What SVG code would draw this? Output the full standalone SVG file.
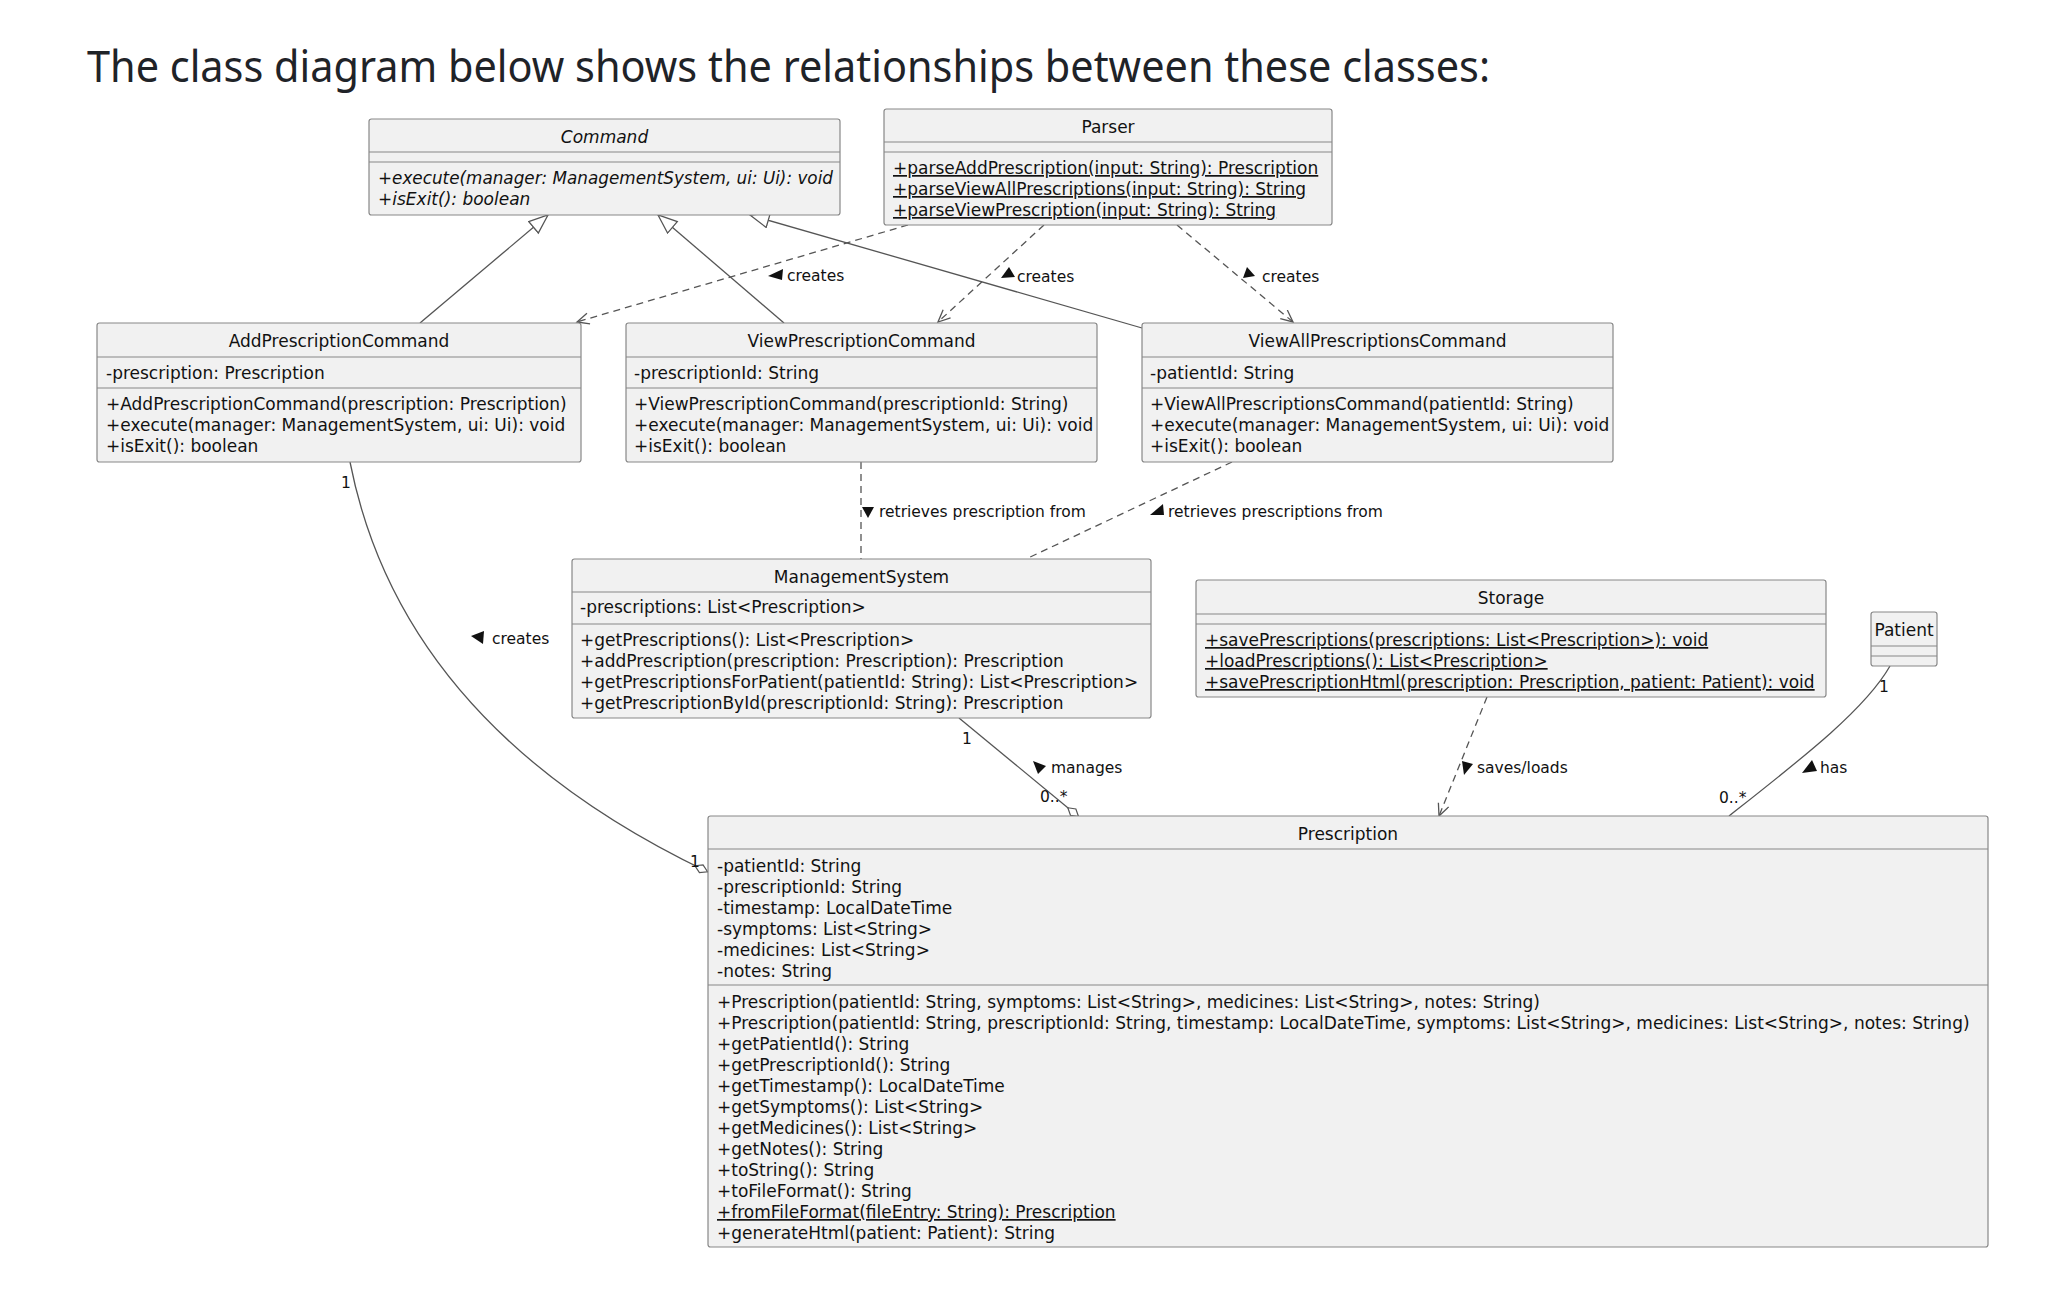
<svg xmlns="http://www.w3.org/2000/svg" width="2056" height="1305" viewBox="0 0 2056 1305">
<style>
.box{fill:#F1F1F1;stroke:#888;stroke-width:1.2}
.sep{stroke:#888;stroke-width:1.2}
.t{font-family:"DejaVu Sans",sans-serif;font-size:17px;fill:#111}
.h{text-anchor:middle}
.i{font-style:italic}
.u{text-decoration:underline}
.lbl{font-family:"DejaVu Sans",sans-serif;font-size:15.5px;fill:#111}
.ln{fill:none;stroke:#555;stroke-width:1.3}
.d{stroke-dasharray:7,5}
.tri{fill:#111}
.head{font-family:"Noto Sans","Open Sans",sans-serif;font-size:44px;fill:#1f2328}
</style>
<defs>
<marker id="gen" markerUnits="userSpaceOnUse" markerWidth="24" markerHeight="20" refX="20" refY="8" orient="auto"><path d="M1,0.5 L20,8 L1,15.5 Z" fill="#fff" stroke="#555" stroke-width="1.3"/></marker>
<marker id="open" markerUnits="userSpaceOnUse" markerWidth="16" markerHeight="14" refX="13" refY="6" orient="auto"><path d="M1,0.5 L13,6 L1,11.5" fill="none" stroke="#555" stroke-width="1.3"/></marker>
<marker id="dia" markerUnits="userSpaceOnUse" markerWidth="18" markerHeight="12" refX="15.5" refY="5" orient="auto"><path d="M1,5 L8,0.8 L15,5 L8,9.2 Z" fill="#fff" stroke="#555" stroke-width="1.2"/></marker>
</defs>
<rect width="2056" height="1305" fill="#fff"/>
<text class="head" x="87" y="82" textLength="1403" lengthAdjust="spacingAndGlyphs">The class diagram below shows the relationships between these classes:</text>

<g id="connectors">
<path class="ln" d="M420,323 L548,215" marker-end="url(#gen)"/>
<path class="ln" d="M784,323 L658,215" marker-end="url(#gen)"/>
<path class="ln" d="M1142,328 L750,215" marker-end="url(#gen)"/>
<path class="ln d" d="M908,225 L577,322" marker-end="url(#open)"/>
<path class="ln d" d="M1044,225 L938,322" marker-end="url(#open)"/>
<path class="ln d" d="M1177,225 L1293,322" marker-end="url(#open)"/>
<path class="ln d" d="M861,462 L861,559"/>
<path class="ln d" d="M1232,462 L1026,559"/>
<path class="ln d" d="M1487,697 L1439,816" marker-end="url(#open)"/>
<path class="ln" d="M350,462 C385,640 505,775 708,872" marker-end="url(#dia)"/>
<path class="ln" d="M959,718 L1079,817" marker-end="url(#dia)"/>
<path class="ln" d="M1890,666 C1865,710 1800,760 1729,816"/>
<polygon class="tri" points="768,276 783,269 782,280"/>
<text class="lbl" x="787" y="281">creates</text>
<polygon class="tri" points="1001,278 1009,267 1015,277"/>
<text class="lbl" x="1017" y="282">creates</text>
<polygon class="tri" points="1243,278 1247,267 1255,276"/>
<text class="lbl" x="1262" y="282">creates</text>
<polygon class="tri" points="862,507 874,507 868,518"/>
<text class="lbl" x="879" y="517">retrieves prescription from</text>
<polygon class="tri" points="1150,515 1163,504 1164,515"/>
<text class="lbl" x="1168" y="517">retrieves prescriptions from</text>
<polygon class="tri" points="471,636 484,631 483,644"/>
<text class="lbl" x="492" y="644">creates</text>
<text class="lbl" x="341" y="488">1</text>
<text class="lbl" x="690" y="867">1</text>
<polygon class="tri" points="1033,761 1046,766 1038,774"/>
<text class="lbl" x="1051" y="773">manages</text>
<text class="lbl" x="962" y="744">1</text>
<text class="lbl" x="1040" y="802">0..*</text>
<polygon class="tri" points="1462,761 1473,764 1464,775"/>
<text class="lbl" x="1477" y="773">saves/loads</text>
<polygon class="tri" points="1802,773 1812,760 1817,771"/>
<text class="lbl" x="1820" y="773">has</text>
<text class="lbl" x="1879" y="692">1</text>
<text class="lbl" x="1719" y="803">0..*</text>
</g>

<g id="Command">
<rect class="box" x="369" y="119" width="471" height="96" rx="2.5"/>
<line class="sep" x1="369" y1="152" x2="840" y2="152"/>
<line class="sep" x1="369" y1="162" x2="840" y2="162"/>
<text class="t h i" x="604.5" y="143">Command</text>
<text class="t i" x="378" y="184" textLength="455" lengthAdjust="spacingAndGlyphs">+execute(manager: ManagementSystem, ui: Ui): void</text>
<text class="t i" x="378" y="205">+isExit(): boolean</text>
</g>

<g id="Parser">
<rect class="box" x="884" y="109" width="448" height="116" rx="2.5"/>
<line class="sep" x1="884" y1="142" x2="1332" y2="142"/>
<line class="sep" x1="884" y1="152" x2="1332" y2="152"/>
<text class="t h" x="1108" y="133">Parser</text>
<text class="t u" x="893" y="174">+parseAddPrescription(input: String): Prescription</text>
<text class="t u" x="893" y="195">+parseViewAllPrescriptions(input: String): String</text>
<text class="t u" x="893" y="216">+parseViewPrescription(input: String): String</text>
</g>

<g id="AddPrescriptionCommand">
<rect class="box" x="97" y="323" width="484" height="139" rx="2.5"/>
<line class="sep" x1="97" y1="357" x2="581" y2="357"/>
<line class="sep" x1="97" y1="388" x2="581" y2="388"/>
<text class="t h" x="339" y="347">AddPrescriptionCommand</text>
<text class="t" x="106" y="379">-prescription: Prescription</text>
<text class="t" x="106" y="410">+AddPrescriptionCommand(prescription: Prescription)</text>
<text class="t" x="106" y="431">+execute(manager: ManagementSystem, ui: Ui): void</text>
<text class="t" x="106" y="452">+isExit(): boolean</text>
</g>

<g id="ViewPrescriptionCommand">
<rect class="box" x="626" y="323" width="471" height="139" rx="2.5"/>
<line class="sep" x1="626" y1="357" x2="1097" y2="357"/>
<line class="sep" x1="626" y1="388" x2="1097" y2="388"/>
<text class="t h" x="861.5" y="347">ViewPrescriptionCommand</text>
<text class="t" x="634" y="379">-prescriptionId: String</text>
<text class="t" x="634" y="410">+ViewPrescriptionCommand(prescriptionId: String)</text>
<text class="t" x="634" y="431">+execute(manager: ManagementSystem, ui: Ui): void</text>
<text class="t" x="634" y="452">+isExit(): boolean</text>
</g>

<g id="ViewAllPrescriptionsCommand">
<rect class="box" x="1142" y="323" width="471" height="139" rx="2.5"/>
<line class="sep" x1="1142" y1="357" x2="1613" y2="357"/>
<line class="sep" x1="1142" y1="388" x2="1613" y2="388"/>
<text class="t h" x="1377.5" y="347">ViewAllPrescriptionsCommand</text>
<text class="t" x="1150" y="379">-patientId: String</text>
<text class="t" x="1150" y="410">+ViewAllPrescriptionsCommand(patientId: String)</text>
<text class="t" x="1150" y="431">+execute(manager: ManagementSystem, ui: Ui): void</text>
<text class="t" x="1150" y="452">+isExit(): boolean</text>
</g>

<g id="ManagementSystem">
<rect class="box" x="572" y="559" width="579" height="159" rx="2.5"/>
<line class="sep" x1="572" y1="592" x2="1151" y2="592"/>
<line class="sep" x1="572" y1="624" x2="1151" y2="624"/>
<text class="t h" x="861.5" y="583">ManagementSystem</text>
<text class="t" x="580" y="613">-prescriptions: List&lt;Prescription&gt;</text>
<text class="t" x="580" y="646">+getPrescriptions(): List&lt;Prescription&gt;</text>
<text class="t" x="580" y="667">+addPrescription(prescription: Prescription): Prescription</text>
<text class="t" x="580" y="688">+getPrescriptionsForPatient(patientId: String): List&lt;Prescription&gt;</text>
<text class="t" x="580" y="709">+getPrescriptionById(prescriptionId: String): Prescription</text>
</g>

<g id="Storage">
<rect class="box" x="1196" y="580" width="630" height="117" rx="2.5"/>
<line class="sep" x1="1196" y1="614" x2="1826" y2="614"/>
<line class="sep" x1="1196" y1="624" x2="1826" y2="624"/>
<text class="t h" x="1511" y="604">Storage</text>
<text class="t u" x="1205" y="646">+savePrescriptions(prescriptions: List&lt;Prescription&gt;): void</text>
<text class="t u" x="1205" y="667">+loadPrescriptions(): List&lt;Prescription&gt;</text>
<text class="t u" x="1205" y="688">+savePrescriptionHtml(prescription: Prescription, patient: Patient): void</text>
</g>

<g id="Patient">
<rect class="box" x="1871" y="612" width="66" height="54" rx="2.5"/>
<line class="sep" x1="1871" y1="646" x2="1937" y2="646"/>
<line class="sep" x1="1871" y1="656" x2="1937" y2="656"/>
<text class="t h" x="1904" y="636">Patient</text>
</g>

<g id="Prescription">
<rect class="box" x="708" y="816" width="1280" height="431" rx="2.5"/>
<line class="sep" x1="708" y1="849" x2="1988" y2="849"/>
<line class="sep" x1="708" y1="985" x2="1988" y2="985"/>
<text class="t h" x="1348" y="840">Prescription</text>
<text class="t" x="717" y="872">-patientId: String</text>
<text class="t" x="717" y="893">-prescriptionId: String</text>
<text class="t" x="717" y="914">-timestamp: LocalDateTime</text>
<text class="t" x="717" y="935">-symptoms: List&lt;String&gt;</text>
<text class="t" x="717" y="956">-medicines: List&lt;String&gt;</text>
<text class="t" x="717" y="977">-notes: String</text>
<text class="t" x="717" y="1008">+Prescription(patientId: String, symptoms: List&lt;String&gt;, medicines: List&lt;String&gt;, notes: String)</text>
<text class="t" x="717" y="1029">+Prescription(patientId: String, prescriptionId: String, timestamp: LocalDateTime, symptoms: List&lt;String&gt;, medicines: List&lt;String&gt;, notes: String)</text>
<text class="t" x="717" y="1050">+getPatientId(): String</text>
<text class="t" x="717" y="1071">+getPrescriptionId(): String</text>
<text class="t" x="717" y="1092">+getTimestamp(): LocalDateTime</text>
<text class="t" x="717" y="1113">+getSymptoms(): List&lt;String&gt;</text>
<text class="t" x="717" y="1134">+getMedicines(): List&lt;String&gt;</text>
<text class="t" x="717" y="1155">+getNotes(): String</text>
<text class="t" x="717" y="1176">+toString(): String</text>
<text class="t" x="717" y="1197">+toFileFormat(): String</text>
<text class="t u" x="717" y="1218">+fromFileFormat(fileEntry: String): Prescription</text>
<text class="t" x="717" y="1239">+generateHtml(patient: Patient): String</text>
</g>
</svg>
